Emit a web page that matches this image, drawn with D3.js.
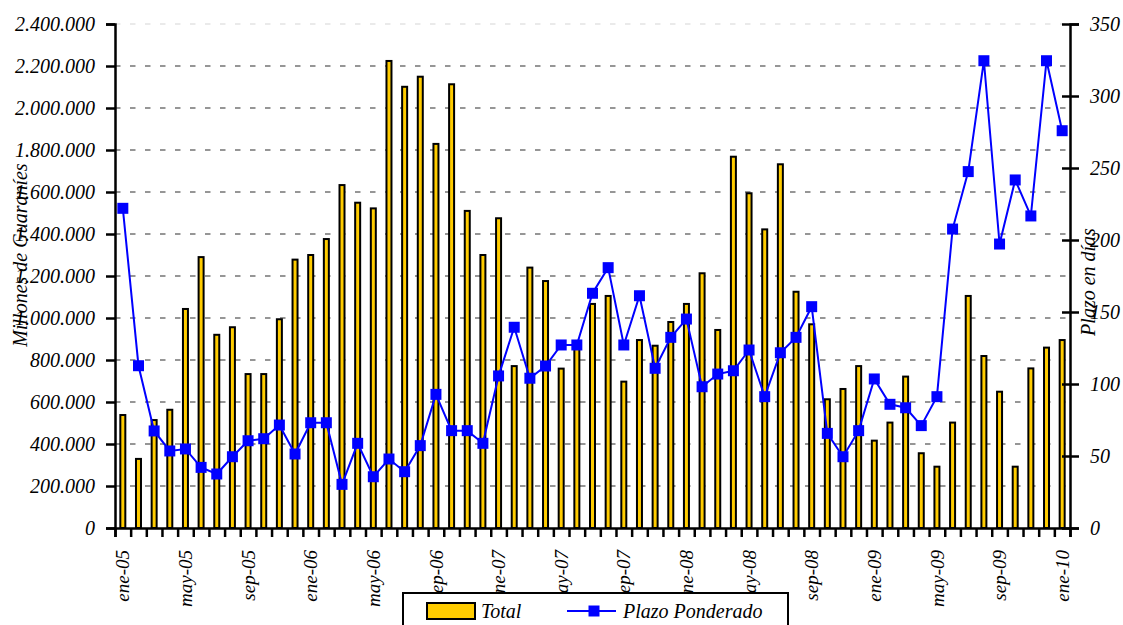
<!DOCTYPE html>
<html>
<head>
<meta charset="utf-8">
<script src="https://cdn.jsdelivr.net/npm/d3@7"></script>
<style>
  body { margin: 0; background: #fff; }
  text { font-family: 'Liberation Serif', 'DejaVu Serif', serif; font-style: italic; }
</style>
</head>
<body>
<script>
//months ene-05 .. ene-10
const monthNames = ['ene', 'feb', 'mar', 'abr', 'may', 'jun', 'jul', 'ago', 'sep', 'oct', 'nov', 'dic']
const months = []
for (let y = 5; y <= 10; y++) {
  monthNames.forEach((m) => {
    if (months.length < 61) months.push(m + '-' + (y < 10 ? '0' + y : y))
  })
}

//Total (millones de guaranies)
const total = [538000, 329000, 514000, 563000, 1043000, 1290000, 920000, 956000, 733000, 733000,
  994000, 1278000, 1300000, 1376000, 1633000, 1549000, 1522000, 2224000, 2101000, 2149000,
  1829000, 2113000, 1510000, 1300000, 1475000, 771000, 1240000, 1176000, 759000, 865000,
  1067000, 1105000, 697000, 895000, 868000, 981000, 1067000, 1213000, 943000, 1768000,
  1594000, 1422000, 1732000, 1125000, 970000, 613000, 662000, 771000, 416000, 502000,
  721000, 356000, 292000, 502000, 1105000, 819000, 649000, 292000, 760000, 859000, 895000]

//Plazo ponderado (dias)
const plazo = [222, 112.7, 67.4, 53.5, 54.9, 42.1, 37.5, 49.5, 60.6, 62,
  71.5, 51.4, 73.1, 73.1, 30.3, 58.8, 35.6, 47.9, 39.1, 57.2,
  92.8, 67.6, 67.6, 58.8, 105.6, 139.4, 104, 112.5, 127.1, 127.1,
  163, 180.8, 127.1, 161.3, 110.9, 132.4, 145.1, 98.1, 106.9, 109.2,
  123.6, 91.2, 121.7, 132.4, 153.7, 65.7, 49.5, 67.6, 103.5, 85.9,
  83.5, 71.1, 91.2, 207.6, 247.5, 324.5, 197.2, 241.7, 216.7, 324.5, 275.9]

const leftTicks = d3.range(0, 2400001, 200000)
const rightTicks = d3.range(0, 351, 50)
const xLabels = months.filter((d, i) => i % 4 === 0)

//dimensions
const width = 1123
const height = 625
const plotLeft = 115
const plotRight = 1070
const plotTop = 24
const plotBottom = 528

const fmt = d3.formatLocale({ decimal: ',', thousands: '.', grouping: [3], currency: ['', ''] }).format(',')

const xScale = d3.scaleBand().domain(months).range([plotLeft, plotRight])
const xLin = d3.scaleLinear().domain([0, months.length]).range([plotLeft, plotRight])
const yLeft = d3.scaleLinear().domain([0, 2400000]).range([plotBottom, plotTop])
const yRight = d3.scaleLinear().domain([0, 350]).range([plotBottom, plotTop])

const svg = d3.select('body')
  .append('svg')
  .attr('width', width)
  .attr('height', height)

//grid lines
svg.append('g')
  .selectAll('line')
  .data(leftTicks.filter((d) => d > 0))
  .enter()
  .append('line')
  .attr('x1', plotLeft)
  .attr('x2', plotRight)
  .attr('y1', (d) => yLeft(d))
  .attr('y2', (d) => yLeft(d))
  .attr('stroke', (d) => d === 2400000 ? '#e4e4e4' : '#969696')
  .attr('stroke-width', (d) => d === 2400000 ? 1.5 : 2.2)
  .attr('stroke-dasharray', '5.5,9.5')

//bars
const barW = 5
svg.append('g')
  .selectAll('rect')
  .data(total)
  .enter()
  .append('rect')
  .attr('x', (d, i) => xScale(months[i]) + xScale.bandwidth() / 2 - barW / 2)
  .attr('y', (d) => yLeft(d))
  .attr('width', barW)
  .attr('height', (d) => plotBottom - yLeft(d))
  .attr('fill', '#FFCC00')
  .attr('stroke', '#000')
  .attr('stroke-width', 2)

//line + markers
const cx = (i) => xScale(months[i]) + xScale.bandwidth() / 2
const line = d3.line()
  .x((d, i) => cx(i))
  .y((d) => yRight(d))

svg.append('path')
  .datum(plazo)
  .attr('d', line)
  .attr('fill', 'none')
  .attr('stroke', '#0000FF')
  .attr('stroke-width', 2)

svg.append('g')
  .selectAll('path')
  .data(plazo)
  .enter()
  .append('path')
  .attr('d', d3.symbol(d3.symbolSquare).size(121))
  .attr('transform', (d, i) => 'translate(' + cx(i) + ',' + yRight(d) + ')')
  .attr('fill', '#0000FF')

//left axis
const gl = svg.append('g')
  .attr('transform', 'translate(' + plotLeft + ',0)')
  .call(d3.axisLeft(yLeft).tickValues(leftTicks).tickFormat(fmt).tickSize(9).tickPadding(11))
gl.select('.domain').attr('stroke-width', 2.5)
gl.selectAll('.tick line').attr('stroke-width', 2.5)
gl.selectAll('text').attr('font-size', '20px').attr('font-family', "'Liberation Serif', serif")

//right axis
const gr = svg.append('g')
  .attr('transform', 'translate(' + plotRight + ',0)')
  .call(d3.axisRight(yRight).tickValues(rightTicks).tickSize(9).tickPadding(11))
gr.select('.domain').attr('stroke-width', 2.5)
gr.selectAll('.tick line').attr('x1', -8).attr('stroke-width', 2.5)
gr.selectAll('text').attr('font-size', '20px').attr('font-family', "'Liberation Serif', serif")

//bottom axis: ticks between months
const gb = svg.append('g')
  .attr('transform', 'translate(0,' + plotBottom + ')')
  .call(d3.axisBottom(xLin).tickValues(d3.range(months.length + 1)).tickFormat('').tickSize(9))
gb.select('.domain').attr('stroke-width', 2.5)
gb.selectAll('.tick line').attr('stroke-width', 2.5)

const gx = svg.append('g')
  .attr('transform', 'translate(0,' + plotBottom + ')')
  .call(d3.axisBottom(xScale).tickValues(xLabels).tickSize(0))
gx.select('.domain').remove()
gx.selectAll('text')
  .attr('transform', 'rotate(-90)')
  .attr('x', -22)
  .attr('y', 0)
  .attr('dy', '0.35em')
  .attr('text-anchor', 'end')
  .attr('font-size', '19px')
  .attr('font-family', "'Liberation Serif', serif")

//axis titles
svg.append('text')
  .attr('transform', 'translate(27,255) rotate(-90)')
  .attr('text-anchor', 'middle')
  .attr('font-size', '20px')
  .text('Millones de Guaraníes')

svg.append('text')
  .attr('transform', 'translate(1095,282) rotate(-90)')
  .attr('text-anchor', 'middle')
  .attr('font-size', '20px')
  .text('Plazo en días')

//legend
const lg = svg.append('g')
lg.append('rect')
  .attr('x', 403)
  .attr('y', 593)
  .attr('width', 385)
  .attr('height', 45)
  .attr('fill', '#fff')
  .attr('stroke', '#000')
  .attr('stroke-width', 2)
lg.append('rect')
  .attr('x', 427)
  .attr('y', 603)
  .attr('width', 48)
  .attr('height', 16)
  .attr('fill', '#FFCC00')
  .attr('stroke', '#000')
  .attr('stroke-width', 2)
lg.append('text')
  .attr('x', 481)
  .attr('y', 618)
  .attr('font-size', '20px')
  .text('Total')
lg.append('line')
  .attr('x1', 567)
  .attr('x2', 616)
  .attr('y1', 611)
  .attr('y2', 611)
  .attr('stroke', '#0000FF')
  .attr('stroke-width', 2)
lg.append('path')
  .attr('d', d3.symbol(d3.symbolSquare).size(121))
  .attr('transform', 'translate(594,611)')
  .attr('fill', '#0000FF')
lg.append('text')
  .attr('x', 623)
  .attr('y', 618)
  .attr('font-size', '20px')
  .text('Plazo Ponderado')
</script>
</body>
</html>
